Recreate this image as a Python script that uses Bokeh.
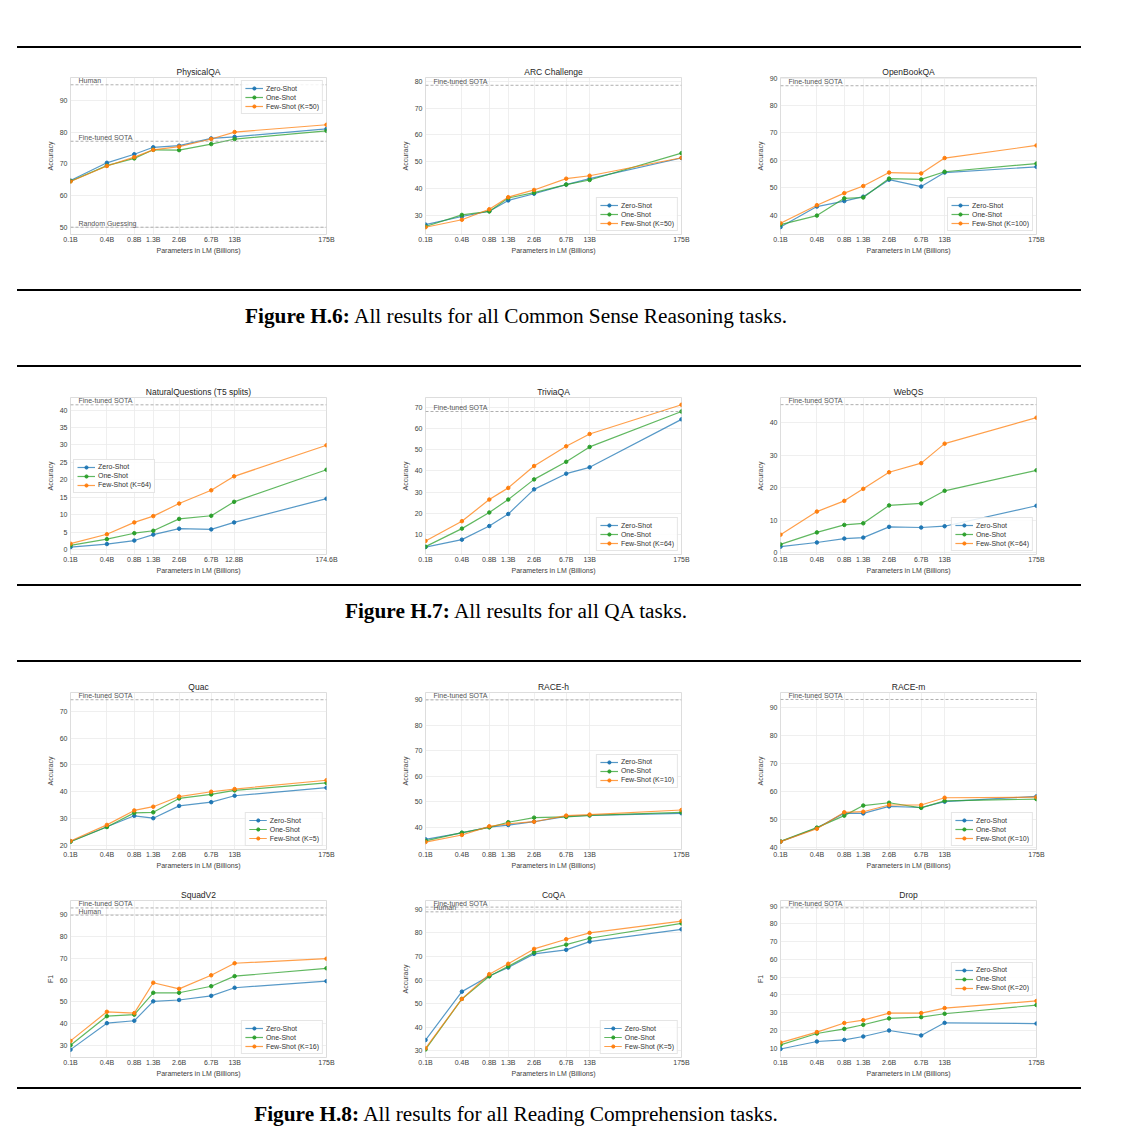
from bokeh.plotting import figure
from bokeh.models import (Range1d, FixedTicker, SingleIntervalTicker, Span, Label,
                          Legend, LegendItem, Div, Spacer)
from bokeh.layouts import row, column
from bokeh.embed import file_html
from bokeh.resources import INLINE

# ---------------- data ----------------
PARAMS = [0.125, 0.35, 0.76, 1.3, 2.7, 6.7, 13.0, 175.0]
PARAMS_NQ = [0.125, 0.35, 0.76, 1.3, 2.7, 6.7, 12.8, 174.6]
TICK_LABELS = ["0.1B", "0.4B", "0.8B", "1.3B", "2.6B", "6.7B", "13B", "175B"]
TICK_LABELS_NQ = ["0.1B", "0.4B", "0.8B", "1.3B", "2.6B", "6.7B", "12.8B", "174.6B"]
SERIES = ["Zero-Shot", "One-Shot", "Few-Shot"]

piqa_zero = [64.7, 70.3, 73.0, 75.2, 75.7, 78.0, 78.5, 81.0]
piqa_one = [64.5, 69.4, 71.7, 74.4, 74.3, 76.2, 77.8, 80.4]
piqa_few = [64.4, 69.3, 72.1, 74.4, 75.4, 77.8, 80.0, 82.3]

arc_zero = [26.6, 29.6, 31.6, 35.6, 38.1, 41.5, 43.7, 51.4]
arc_one = [25.9, 30.2, 31.5, 36.5, 38.5, 41.5, 43.2, 53.2]
arc_few = [25.6, 28.4, 32.3, 36.8, 39.5, 43.7, 44.8, 51.5]

obqa_zero = [35.6, 43.1, 45.1, 46.7, 52.9, 50.4, 55.5, 57.6]
obqa_one = [36.5, 39.8, 46.1, 46.4, 53.3, 53.0, 55.8, 58.8]
obqa_few = [37.0, 43.6, 48.0, 50.6, 55.5, 55.2, 60.8, 65.4]

nq_zero = [0.7, 1.6, 2.6, 4.3, 6.0, 5.8, 7.8, 14.6]
nq_one = [1.2, 3.0, 4.7, 5.4, 8.8, 9.7, 13.7, 22.9]
nq_few = [1.7, 4.4, 7.8, 9.6, 13.2, 17.0, 21.0, 29.9]

tqa_zero = [4.1, 7.6, 14.0, 19.7, 31.3, 38.7, 41.7, 64.3]
tqa_one = [4.3, 12.8, 20.4, 26.5, 36.0, 44.3, 51.3, 68.0]
tqa_few = [7.0, 16.3, 26.5, 32.0, 42.3, 51.6, 57.4, 71.2]

webqs_zero = [1.8, 3.1, 4.3, 4.6, 7.9, 7.7, 8.1, 14.4]
webqs_one = [2.5, 6.2, 8.5, 9.0, 14.5, 15.1, 19.0, 25.3]
webqs_few = [5.5, 12.6, 15.9, 19.6, 24.7, 27.5, 33.5, 41.5]

quac_zero = [21.4, 26.9, 31.0, 30.1, 34.7, 36.1, 38.5, 41.5]
quac_one = [21.3, 26.8, 32.1, 32.3, 37.5, 39.0, 40.5, 43.3]
quac_few = [21.6, 27.6, 33.0, 34.4, 38.2, 40.0, 41.0, 44.3]

raceh_zero = [35.3, 37.8, 40.1, 40.9, 42.2, 44.3, 44.7, 45.5]
raceh_one = [34.7, 37.9, 40.0, 42.0, 43.8, 44.1, 44.7, 45.9]
raceh_few = [34.2, 37.0, 40.4, 41.4, 42.2, 44.6, 45.0, 46.8]

racem_zero = [42.2, 47.1, 52.4, 52.3, 54.8, 54.4, 56.5, 58.4]
racem_one = [42.3, 47.2, 51.5, 55.1, 56.1, 54.3, 56.8, 57.4]
racem_few = [42.2, 46.8, 52.7, 52.9, 55.3, 55.3, 57.9, 58.1]

squad_zero = [28.2, 40.3, 41.4, 50.3, 50.9, 52.8, 56.5, 59.5]
squad_one = [30.2, 43.5, 44.2, 54.2, 54.2, 57.2, 61.8, 65.4]
squad_few = [32.2, 45.5, 44.9, 58.8, 56.0, 62.2, 67.7, 69.8]

coqa_zero = [34.6, 55.1, 61.7, 65.3, 71.1, 72.8, 76.3, 81.5]
coqa_one = [30.6, 52.0, 61.6, 65.8, 71.7, 75.0, 77.7, 84.0]
coqa_few = [31.1, 52.0, 62.5, 66.9, 73.2, 77.3, 80.0, 85.0]

drop_zero = [9.6, 13.8, 14.7, 16.6, 20.0, 17.2, 24.3, 23.9]
drop_one = [11.9, 18.3, 20.9, 23.2, 26.8, 27.5, 29.4, 34.3]
drop_few = [13.2, 19.1, 24.2, 25.8, 29.8, 29.8, 32.6, 36.6]

# reference lines (value, label)
piqa_refs = [(94.9, "Human"), (77.1, "Fine-tuned SOTA"), (50.0, "Random Guessing")]
arc_refs = [(78.5, "Fine-tuned SOTA")]
obqa_refs = [(87.2, "Fine-tuned SOTA")]
nq_refs = [(41.5, "Fine-tuned SOTA")]
tqa_refs = [(68.0, "Fine-tuned SOTA")]
webqs_refs = [(45.5, "Fine-tuned SOTA")]
quac_refs = [(74.4, "Fine-tuned SOTA")]
raceh_refs = [(90.0, "Fine-tuned SOTA")]
racem_refs = [(93.0, "Fine-tuned SOTA")]
squad_refs = [(93.0, "Fine-tuned SOTA"), (89.7, "Human")]
coqa_refs = [(90.9, "Fine-tuned SOTA"), (88.9, "Human")]
drop_refs = [(89.0, "Fine-tuned SOTA")]

CAPTIONS = [
    ("Figure H.6:", "All results for all Common Sense Reasoning tasks."),
    ("Figure H.7:", "All results for all QA tasks."),
    ("Figure H.8:", "All results for all Reading Comprehension tasks."),
]

COLORS = ["#1f77b4", "#2ca02c", "#ff7f0e"]
FONT = "Liberation Sans"


def make_plot(title, xs, xlabels, series, k, ylim, ystep, ylabel, refs, loc):
    p = figure(frame_width=256, frame_height=157, x_axis_type="log",
               x_range=Range1d(xs[0], xs[-1]), y_range=Range1d(*ylim),
               output_backend="svg", toolbar_location=None,
               min_border_left=34, min_border_right=65,
               min_border_top=17, min_border_bottom=25,
               background_fill_color="white", border_fill_color="white",
               outline_line_color="#d4d4d4", outline_line_width=0.8)
    p.title.text = title
    p.title.align = "center"
    p.title.text_font = FONT
    p.title.text_font_size = "8.5px"
    p.title.text_font_style = "normal"
    p.title.text_color = "#262626"
    p.title.standoff = 2

    p.xaxis.ticker = FixedTicker(ticks=xs, minor_ticks=[])
    p.xaxis.major_label_overrides = {x: l for x, l in zip(xs, xlabels)}
    p.xaxis.axis_label = "Parameters in LM (Billions)"
    p.yaxis.ticker = SingleIntervalTicker(interval=ystep, num_minor_ticks=0)
    p.yaxis.axis_label = ylabel
    for ax in p.axis:
        ax.axis_line_color = None
        ax.major_tick_line_color = None
        ax.minor_tick_line_color = None
        ax.major_tick_out = 0
        ax.major_tick_in = 0
        ax.minor_tick_out = 0
        ax.minor_tick_in = 0
        ax.major_label_text_font = FONT
        ax.major_label_text_font_size = "7px"
        ax.major_label_text_color = "#404040"
        ax.axis_label_text_font = FONT
        ax.axis_label_text_font_size = "7px"
        ax.axis_label_text_font_style = "normal"
        ax.axis_label_text_color = "#404040"
        ax.major_label_standoff = 3
        ax.axis_label_standoff = 3
    p.xaxis.major_label_standoff = 1
    p.xaxis.axis_label_standoff = 1
    for g in (p.xgrid, p.ygrid):
        g.grid_line_color = "#ebebeb"
        g.grid_line_width = 0.8

    for val, name in refs:
        p.add_layout(Span(location=val, dimension="width", line_color="#9a9a9a",
                          line_width=0.8, line_dash="3 2"))
        p.add_layout(Label(x=xs[0], y=val, x_offset=8, y_offset=0.5, text=name,
                           text_font=FONT, text_font_size="7px",
                           text_color="#555555", text_baseline="bottom"))

    items = []
    for name, ys, c in zip(SERIES, series, COLORS):
        ln = p.line(xs, ys, line_color=c, line_width=1.2, line_alpha=0.75)
        sc = p.scatter(xs, ys, size=3.5, marker="circle", fill_color=c, line_color=c)
        label = name if name != "Few-Shot" else f"Few-Shot (K={k})"
        items.append(LegendItem(label=label, renderers=[ln, sc]))
    leg = Legend(items=items, location=loc, label_text_font=FONT,
                 label_text_font_size="7px", label_text_color="#333333",
                 glyph_height=8, glyph_width=18, label_height=8, label_standoff=3,
                 spacing=1, padding=3, margin=3,
                 border_line_color="#cccccc", border_line_width=0.8,
                 background_fill_color="white", background_fill_alpha=0.85)
    p.add_layout(leg)
    return p


specs = [
    ("PhysicalQA", PARAMS, TICK_LABELS, [piqa_zero, piqa_one, piqa_few], 50, (47.7, 97.2), 10, "Accuracy", piqa_refs, "top_right"),
    ("ARC Challenge", PARAMS, TICK_LABELS, [arc_zero, arc_one, arc_few], 50, (22.9, 81.4), 10, "Accuracy", arc_refs, "bottom_right"),
    ("OpenBookQA", PARAMS, TICK_LABELS, [obqa_zero, obqa_one, obqa_few], 100, (32.9, 90.2), 10, "Accuracy", obqa_refs, "bottom_right"),
    ("NaturalQuestions (T5 splits)", PARAMS_NQ, TICK_LABELS_NQ, [nq_zero, nq_one, nq_few], 64, (-1.4, 43.6), 5, "Accuracy", nq_refs, "center_left"),
    ("TriviaQA", PARAMS, TICK_LABELS, [tqa_zero, tqa_one, tqa_few], 64, (0.6, 74.6), 10, "Accuracy", tqa_refs, "bottom_right"),
    ("WebQS", PARAMS, TICK_LABELS, [webqs_zero, webqs_one, webqs_few], 64, (-0.6, 47.7), 10, "Accuracy", webqs_refs, "bottom_right"),
    ("Quac", PARAMS, TICK_LABELS, [quac_zero, quac_one, quac_few], 5, (18.4, 77.1), 10, "Accuracy", quac_refs, "bottom_right"),
    ("RACE-h", PARAMS, TICK_LABELS, [raceh_zero, raceh_one, raceh_few], 10, (31.3, 92.9), 10, "Accuracy", raceh_refs, "center_right"),
    ("RACE-m", PARAMS, TICK_LABELS, [racem_zero, racem_one, racem_few], 10, (39.4, 95.5), 10, "Accuracy", racem_refs, "bottom_right"),
    ("SquadV2", PARAMS, TICK_LABELS, [squad_zero, squad_one, squad_few], 16, (24.6, 96.4), 10, "F1", squad_refs, "bottom_right"),
    ("CoQA", PARAMS, TICK_LABELS, [coqa_zero, coqa_one, coqa_few], 5, (27.2, 93.7), 10, "Accuracy", coqa_refs, "bottom_right"),
    ("Drop", PARAMS, TICK_LABELS, [drop_zero, drop_one, drop_few], 20, (4.8, 93.1), 10, "F1", drop_refs, "center_right"),
]
plots = [make_plot(*s) for s in specs]


def sp(w, h):
    return Spacer(width=w, height=h, margin=0)


def rule():
    return row(sp(17, 2), Div(text="", width=1064, height=2, margin=0,
                              styles={"background-color": "#000000"}), margin=0)


def caption(bold, rest, h, pad):
    html = ('<div style="width:1016px;text-align:center;font-family:\'Liberation Serif\',serif;'
            'font-size:21.3px;line-height:24px;color:#000;padding-top:%dpx">'
            '<b>%s</b> %s</div>' % (pad, bold, rest))
    return row(sp(8, h), Div(text=html, width=1016, height=h, margin=0), margin=0)


def fig_row(ps):
    return row(sp(36, 199), *ps, margin=0)


layout = column(
    sp(10, 46),
    rule(),
    sp(10, 12),
    fig_row(plots[0:3]),
    sp(10, 30),
    rule(),
    caption(*CAPTIONS[0], 74, 13),
    rule(),
    sp(10, 13),
    fig_row(plots[3:6]),
    sp(10, 5),
    rule(),
    caption(*CAPTIONS[1], 74, 13),
    rule(),
    sp(10, 13),
    fig_row(plots[6:9]),
    sp(10, 9),
    fig_row(plots[9:12]),
    sp(10, 5),
    rule(),
    caption(*CAPTIONS[2], 36, 13),
    margin=0,
)

open("out.html", "w").write(file_html(layout, INLINE))
